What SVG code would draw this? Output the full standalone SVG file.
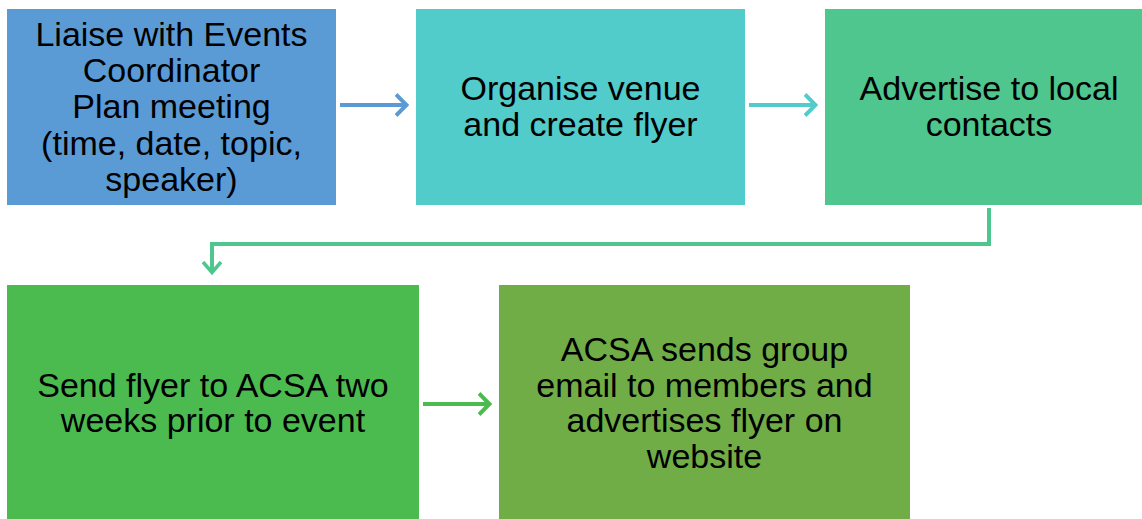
<svg xmlns="http://www.w3.org/2000/svg" width="1142" height="519" viewBox="0 0 1142 519">
<style>
.t{font-family:"Liberation Sans",Arial,sans-serif;font-size:34px;fill:#000;text-anchor:middle}
.c{fill:none;stroke-width:4}
</style>
<defs>
<marker id="mb" viewBox="0 0 14 24" refX="12.5" refY="12" markerWidth="14" markerHeight="24" markerUnits="userSpaceOnUse" orient="auto"><path d="M1.5,1.5 L12,12 L1.5,22.5" fill="none" stroke="#5B9BD5" stroke-width="4"/></marker>
<marker id="mc" viewBox="0 0 14 24" refX="12.5" refY="12" markerWidth="14" markerHeight="24" markerUnits="userSpaceOnUse" orient="auto"><path d="M1.5,1.5 L12,12 L1.5,22.5" fill="none" stroke="#52CBCB" stroke-width="4"/></marker>
<marker id="mg" viewBox="0 0 14 22" refX="12.5" refY="11" markerWidth="14" markerHeight="22" markerUnits="userSpaceOnUse" orient="auto"><path d="M1.5,2 L12,11 L1.5,20" fill="none" stroke="#4EC68E" stroke-width="3.5"/></marker>
<marker id="mg2" viewBox="0 0 14 24" refX="12.5" refY="12" markerWidth="14" markerHeight="24" markerUnits="userSpaceOnUse" orient="auto"><path d="M1.5,1.5 L12,12 L1.5,22.5" fill="none" stroke="#4CBB4F" stroke-width="4"/></marker>
</defs>
<g id="n1"><rect x="7" y="9" width="329" height="196" fill="#5B9BD5"/>
<text class="t"><tspan x="171.5" y="46">Liaise with Events</tspan><tspan x="171.5" y="82">Coordinator</tspan><tspan x="171.5" y="118">Plan meeting</tspan><tspan x="171.5" y="155">(time, date, topic,</tspan><tspan x="171.5" y="191">speaker)</tspan></text></g>
<g id="n2"><rect x="416" y="9" width="329" height="196" fill="#52CBCB"/>
<text class="t"><tspan x="580.5" y="100">Organise venue</tspan><tspan x="580.5" y="136">and create flyer</tspan></text></g>
<g id="n3"><rect x="825" y="9" width="317" height="196" fill="#4EC68E"/>
<text class="t"><tspan x="989" y="100">Advertise to local</tspan><tspan x="989" y="136">contacts</tspan></text></g>
<g id="n4"><rect x="7" y="285" width="412" height="234" fill="#4CBB4F"/>
<text class="t"><tspan x="213" y="397">Send flyer to ACSA two</tspan><tspan x="213" y="432">weeks prior to event</tspan></text></g>
<g id="n5"><rect x="499" y="285" width="411" height="234" fill="#70AD47"/>
<text class="t"><tspan x="704.5" y="361">ACSA sends group</tspan><tspan x="704.5" y="397">email to members and</tspan><tspan x="704.5" y="432">advertises flyer on</tspan><tspan x="704.5" y="468">website</tspan></text></g>
<g id="connectors">
<path class="c" d="M340,105 L407,105" stroke="#5B9BD5" marker-end="url(#mb)"/>
<path class="c" d="M749,105 L816,105" stroke="#52CBCB" marker-end="url(#mc)"/>
<path class="c" d="M989,208 L989,244 L212,244 L212,273" stroke="#4EC68E" stroke-width="3" marker-end="url(#mg)"/>
<path class="c" d="M423,404 L490,404" stroke="#4CBB4F" marker-end="url(#mg2)"/>
</g>
</svg>
